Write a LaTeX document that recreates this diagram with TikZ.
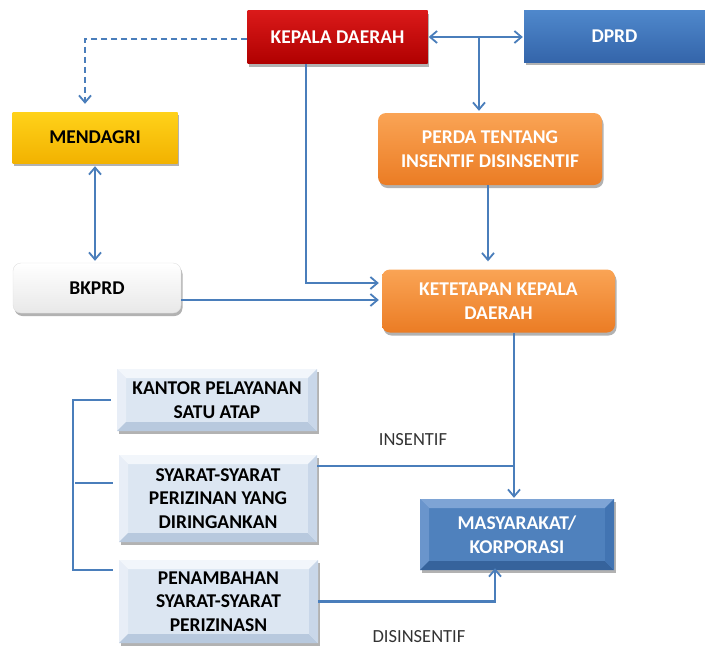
\documentclass[tikz,border=0pt]{standalone}
\usepackage{fontspec}
\setmainfont{Carlito}
\usetikzlibrary{arrows.meta,shadows,calc}

\definecolor{linkblue}{HTML}{4A7EBB}
\definecolor{redtop}{HTML}{DA1A1A}
\definecolor{redbot}{HTML}{B00000}
\definecolor{bluetop}{HTML}{4F88CC}
\definecolor{bluebot}{HTML}{3465AA}
\definecolor{goldtop}{HTML}{FFD21A}
\definecolor{goldbot}{HTML}{F2B200}
\definecolor{orangetop}{HTML}{FAA455}
\definecolor{orangebot}{HTML}{EB7C24}
\definecolor{paleblue}{HTML}{DCE6F2}
\definecolor{palelight}{HTML}{F2F6FB}
\definecolor{palemid}{HTML}{E8EEF7}
\definecolor{paledark}{HTML}{B8C9DE}
\definecolor{palemiddark}{HTML}{C9D7E9}
\definecolor{mblue}{HTML}{4F81BD}
\definecolor{mbluelight}{HTML}{7EA4D5}
\definecolor{mbluemid}{HTML}{6A95CC}
\definecolor{mbluedark}{HTML}{36639C}
\definecolor{mbluemiddark}{HTML}{4274B2}

\tikzset{
  box/.style={minimum width=#1, inner sep=2pt, align=center,
    font=\fontsize{19.5}{23.5}\selectfont\bfseries,
    drop shadow={shadow xshift=1.5pt, shadow yshift=-3pt, opacity=0.3, fill=black}},
  grad/.style n args={2}{top color=#1, bottom color=#2},
  bevel/.style n args={5}{fill=#1, path picture={
      \def\bw{9pt}
      \fill[#2] (path picture bounding box.north west) -- (path picture bounding box.north east)
        -- ([xshift=-\bw,yshift=-\bw]path picture bounding box.north east)
        -- ([xshift=\bw,yshift=-\bw]path picture bounding box.north west) -- cycle;
      \fill[#3] (path picture bounding box.north west) -- (path picture bounding box.south west)
        -- ([xshift=\bw,yshift=\bw]path picture bounding box.south west)
        -- ([xshift=\bw,yshift=-\bw]path picture bounding box.north west) -- cycle;
      \fill[#4] (path picture bounding box.south west) -- (path picture bounding box.south east)
        -- ([xshift=-\bw,yshift=\bw]path picture bounding box.south east)
        -- ([xshift=\bw,yshift=\bw]path picture bounding box.south west) -- cycle;
      \fill[#5] (path picture bounding box.north east) -- (path picture bounding box.south east)
        -- ([xshift=-\bw,yshift=\bw]path picture bounding box.south east)
        -- ([xshift=-\bw,yshift=-\bw]path picture bounding box.north east) -- cycle;
    }},
  palebox/.style={bevel={paleblue}{palelight}{palemid}{paledark}{palemiddark}, text=black},
  link/.style={draw=linkblue, line width=2.2pt},
  tip/.style={-{Straight Barb[length=7pt,width=12pt,line width=1.8pt]}},
  dtip/.style={{Straight Barb[length=7pt,width=12pt,line width=1.8pt]}-{Straight Barb[length=7pt,width=12pt,line width=1.8pt]}},
  lbl/.style={font=\fontsize{18.5}{22}\selectfont, text=black!80}
}

\begin{document}
\begin{tikzpicture}[x=1pt, y=-1pt]
  \useasboundingbox (0,0) rectangle (705,648);

  % top row
  \node[box=180pt, minimum height=53pt, grad={redtop}{redbot}, text=white] (kd) at (337.5,37) {KEPALA DAERAH};
  \node[box=181pt, minimum height=52pt, grad={bluetop}{bluebot}, text=white] (dprd) at (614.5,36) {DPRD};

  % second row
  \node[box=165pt, minimum height=51pt, grad={goldtop}{goldbot}, text=black] (md) at (95,137.5) {MENDAGRI};
  \node[box=224pt, minimum height=72pt, rounded corners=8pt, grad={orangetop}{orangebot}, text=white] (perda) at (490,149) {PERDA TENTANG\\INSENTIF DISINSENTIF};

  % third row
  \node[box=168pt, minimum height=50pt, rounded corners=8pt, grad={white}{black!9}, draw=black!12, text=black] (bk) at (97,288) {BKPRD};
  \node[box=233pt, minimum height=63pt, rounded corners=8pt, grad={orangetop}{orangebot}, text=white] (kt) at (498.5,301) {KETETAPAN KEPALA\\DAERAH};

  % instruments
  \node[box=200pt, minimum height=62pt, palebox] (ka) at (217,400) {KANTOR PELAYANAN\\SATU ATAP};
  \node[box=198pt, minimum height=87pt, palebox] (sy) at (218,498.5) {SYARAT-SYARAT\\PERIZINAN YANG\\DIRINGANKAN};
  \node[box=199pt, minimum height=83pt, palebox] (pn) at (218.5,601.5) {PENAMBAHAN\\SYARAT-SYARAT\\PERIZINASN};

  % target
  \node[box=194pt, minimum height=71pt, bevel={mblue}{mbluelight}{mbluemid}{mbluedark}{mbluemiddark}, text=white] (ms) at (517,534.5) {MASYARAKAT/\\KORPORASI};

  % labels
  \node[lbl] (ins) at (413,440) {INSENTIF};
  \node[lbl] (dis) at (419,637) {DISINSENTIF};

  % connectors
  \draw[link, tip, dashed, dash pattern=on 6pt off 4pt, shorten >=8pt] ([yshift=-2pt]kd.west) -| ([xshift=-10pt]md.north);
  \draw[link, dtip, shorten <=1pt, shorten >=1pt] (kd.east) -- (kd.east -| dprd.west);
  \coordinate (j1) at (479,37);
  \draw[link, tip, shorten >=2pt] (j1) -- (j1 |- perda.north);
  \draw[link, tip, shorten >=3pt] ([xshift=-31.5pt]kd.south) |- ([yshift=18pt]kt.west);
  \draw[link, tip, shorten >=3pt] ([yshift=-12pt]bk.east) -- ([yshift=-12pt]bk.east -| kt.west);
  \draw[link, dtip, shorten <=3pt, shorten >=2pt] (md.south) -- (md.south |- bk.north);
  \draw[link, tip, shorten >=8pt] ([xshift=-2pt]perda.south) -- ([xshift=-2pt]perda.south |- kt.north);
  \coordinate (j2) at ([xshift=15.5pt]kt.south);
  \draw[link, tip, shorten >=1pt] (j2) -- (j2 |- ms.north);
  \draw[link] ([yshift=32.5pt]sy.east) -- ([yshift=32.5pt]sy.east -| j2);
  \draw[link, tip, shorten >=-2pt] (pn.east) -| ([xshift=-22pt]ms.south);

  % bracket grouping the instruments
  \coordinate (b1) at ([xshift=-6pt]ka.west);
  \coordinate (b2) at ([xshift=-6pt,yshift=15.5pt]sy.west);
  \coordinate (b3) at ([xshift=-6pt,yshift=31.5pt]pn.west);
  \draw[link] (b1) -- ++(-38,0) |- (b3);
  \draw[link] (b2) -- ++(-38,0);
\end{tikzpicture}
\end{document}
